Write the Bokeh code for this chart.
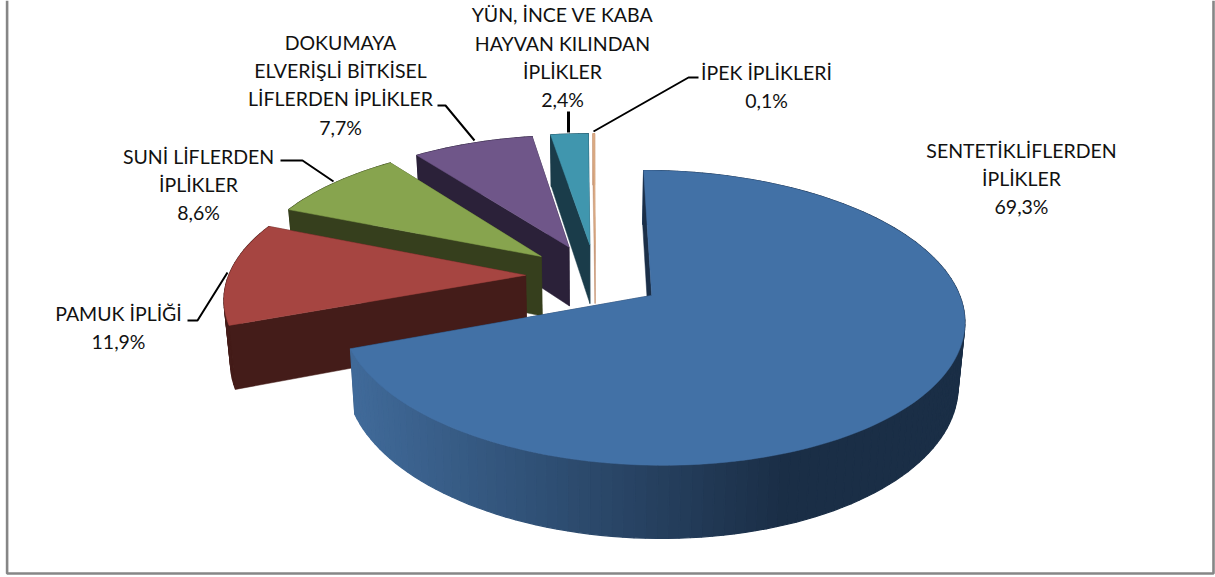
import math
from bokeh.plotting import figure
from bokeh.embed import file_html
from bokeh.resources import INLINE
from bokeh.core.properties import value

# ---- data ----
categories = ["SENTETİK LİFLERDEN İPLİKLER", "PAMUK İPLİĞİ", "SUNİ LİFLERDEN İPLİKLER",
              "DOKUMAYA ELVERİŞLİ BİTKİSEL LİFLERDEN İPLİKLER",
              "YÜN, İNCE VE KABA HAYVAN KILINDAN İPLİKLER", "İPEK İPLİKLERİ"]
shares = [69.3, 11.9, 8.6, 7.7, 2.4, 0.1]
top_colors = ["#4271A6", "#A64541", "#87A44E", "#6F5689", "#4096AE", "#DDAD85"]
wall_colors = ["#1B2F48", "#441C19", "#363F1D", "#2B2139", "#1A3C4A", "#C89878"]
blue_wall_ramp = ["#1A2E46", "#406A99"]

label_lines = [
    ("SENTETİKLİFLERDEN", 1021, 150), ("İPLİKLER", 1021, 178), ("69,3%", 1021, 206),
    ("PAMUK İPLİĞİ", 118, 313), ("11,9%", 118, 341),
    ("SUNİ LİFLERDEN", 198, 156), ("İPLİKLER", 198, 184), ("8,6%", 198, 212),
    ("DOKUMAYA", 340, 42), ("ELVERİŞLİ BİTKİSEL", 340, 70), ("LİFLERDEN İPLİKLER", 340, 98), ("7,7%", 340, 127),
    ("YÜN, İNCE VE KABA", 562, 14), ("HAYVAN KILINDAN", 562, 43), ("İPLİKLER", 562, 71), ("2,4%", 562, 99),
    ("İPEK İPLİKLERİ", 766, 72), ("0,1%", 766, 100),
]
leaders = [
    ([437, 445, 474], [105, 105, 140]),
    ([280, 302, 333], [160, 160, 181]),
    ([187, 197, 227], [320, 320, 272]),
    ([593, 688, 698], [131, 77, 77]),
    ([568, 568], [111, 132]),
]

# ---- projection of the tilted pie on the page ----
VX, CX, CY, A, B, P = 590.0, 650.0, 295.0, 308.0, 144.0, 0.1525
DEPTH, SHRINK = 62.0, 0.982
EXPLODE = [0.2165, 0.232, 0.232, 0.232, 0.232, 0.232]
RADIUS = [1.0, 0.985, 0.985, 0.985, 0.985, 0.985]
NUDGE = [(0.004, -0.016), (0, 0), (0, 0), (0, 0), (0, 0), (0, 0)]
CENTER = (-0.178, 0.14)


def proj(X, Z):
    s = 1.0 / (1.0 + P * Z)
    return VX + (CX - VX + A * X) * s, CY - B * Z * s


def proj_low(X, Z):
    x, y = proj(X, Z)
    s = 1.0 / (1.0 + P * Z)
    return VX + (x - VX) * SHRINK, y + DEPTH * s


def mix(c0, c1, t):
    a = [int(c0[i:i + 2], 16) for i in (1, 3, 5)]
    b = [int(c1[i:i + 2], 16) for i in (1, 3, 5)]
    return "#%02x%02x%02x" % tuple(round(u + (v - u) * t) for u, v in zip(a, b))


p = figure(width=1215, height=577, x_range=(0, 1215), y_range=(577, 0),
           output_backend="svg", toolbar_location=None, min_border=0,
           x_axis_type=None, y_axis_type=None, outline_line_color=None,
           background_fill_color="white", border_fill_color="white")
p.grid.visible = False

# chart frame
p.line([6.6, 6.6, 1213, 1213], [0, 573, 573, 0], line_color="#868686", line_width=2.6)

# slices
total = sum(shares)
angles = [0.0]
for v in shares:
    angles.append(angles[-1] + v / total * 360.0)

slices = []
for i, v in enumerate(shares):
    t0, t1 = math.radians(angles[i]), math.radians(angles[i + 1])
    mid = (t0 + t1) / 2
    ax = CENTER[0] + EXPLODE[i] * math.sin(mid) + NUDGE[i][0]
    az = CENTER[1] + EXPLODE[i] * math.cos(mid) + NUDGE[i][1]
    n = max(4, int(v * 2))
    r = RADIUS[i]
    arc = [(ax + r * math.sin(t0 + (t1 - t0) * k / n), az + r * math.cos(t0 + (t1 - t0) * k / n))
           for k in range(n + 1)]
    slices.append((i, ax, az, arc))

for i, ax, az, arc in reversed(slices):
    apex_hi, apex_lo = proj(ax, az), proj_low(ax, az)
    # far radial wall
    e_hi, e_lo = proj(*arc[-1]), proj_low(*arc[-1])
    p.patch([apex_hi[0], e_hi[0], e_lo[0], apex_lo[0]], [apex_hi[1], e_hi[1], e_lo[1], apex_lo[1]],
            fill_color=wall_colors[i], line_color=wall_colors[i], line_width=0.5)
    # outer curved wall, in strips
    xs, ys, cols = [], [], []
    for k in range(len(arc) - 1):
        a, b = arc[k], arc[k + 1]
        h0, h1, l1, l0 = proj(*a), proj(*b), proj_low(*b), proj_low(*a)
        xs.append([h0[0], h1[0], l1[0], l0[0]])
        ys.append([h0[1], h1[1], l1[1], l0[1]])
        if i == 0:
            t = min(1.0, max(0.0, (790.0 - h0[0]) / (790.0 - 355.0)))
            cols.append(mix(blue_wall_ramp[0], blue_wall_ramp[1], t))
        else:
            cols.append(wall_colors[i])
    p.patches(xs, ys, fill_color=cols, line_color=cols, line_width=1.2)
    # near radial wall
    s_hi, s_lo = proj(*arc[0]), proj_low(*arc[0])
    p.patch([apex_hi[0], s_hi[0], s_lo[0], apex_lo[0]], [apex_hi[1], s_hi[1], s_lo[1], apex_lo[1]],
            fill_color=wall_colors[i], line_color=wall_colors[i], line_width=0.5)
    # top face
    pts = [apex_hi] + [proj(*q) for q in arc]
    p.patch([q[0] for q in pts], [q[1] for q in pts],
            fill_color=top_colors[i], line_color=top_colors[i], line_width=0.5)

# leader lines
for k, (lx, ly) in enumerate(leaders):
    p.line(lx, ly, line_color="black", line_width=3 if k == 4 else 2)

# labels
p.text([q[1] for q in label_lines], [q[2] for q in label_lines], text=[q[0] for q in label_lines],
       text_font=value("Lato"), text_font_size="19.5px", text_color="#111111",
       text_align="center", text_baseline="middle")

open("out.html", "w").write(file_html(p, INLINE))
